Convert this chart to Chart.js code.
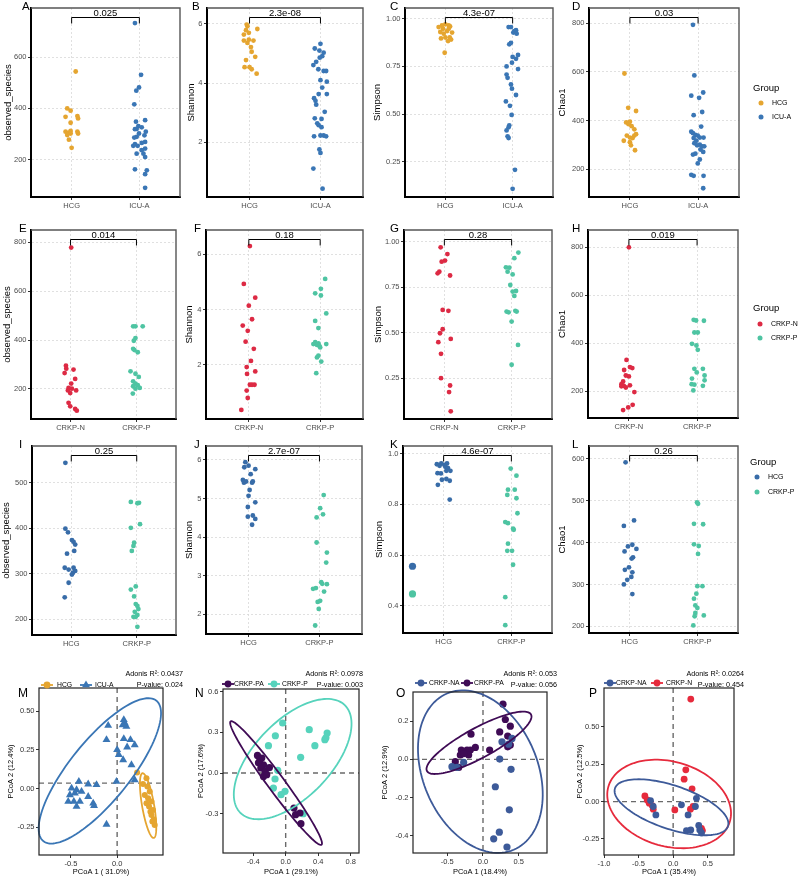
<!DOCTYPE html>
<html>
<head>
<meta charset="utf-8">
<script src="https://cdn.jsdelivr.net/npm/chart.js@4.4.1/dist/chart.umd.min.js"></script>
<style>
  html, body { margin: 0; padding: 0; background: #fff; }
  body { width: 800px; height: 876px; position: relative; overflow: hidden; }
  canvas { position: absolute; }
</style>
</head>
<body>
<script>
const FONT = '"Liberation Sans", Arial, sans-serif';
Chart.defaults.font.family = FONT;

// ---------- categories ----------
const catsIcu = ['HCG', 'ICU-A'];
const catsCrkp = ['CRKP-N', 'CRKP-P'];
const catsHcgP = ['HCG', 'CRKP-P'];

// ---------- tick labels ----------
const ticksObsA = ['200', '400', '600'];
const ticksShanB = ['2', '4', '6'];
const ticksSimpC = ['0.25', '0.50', '0.75', '1.00'];
const ticksChaoD = ['200', '400', '600', '800'];
const ticksObsE = ['200', '400', '600', '800'];
const ticksShanF = ['2', '4', '6'];
const ticksSimpG = ['0.25', '0.50', '0.75', '1.00'];
const ticksChaoH = ['200', '400', '600', '800'];
const ticksObsI = ['200', '300', '400', '500'];
const ticksShanJ = ['2', '3', '4', '5', '6'];
const ticksSimpK = ['0.4', '0.6', '0.8', '1.0'];
const ticksChaoL = ['200', '300', '400', '500', '600'];

const pcoaMxTicks = ['-0.5', '0.0'];
const pcoaMyTicks = ['-0.25', '0.00', '0.25', '0.50'];
const pcoaNxTicks = ['-0.4', '0.0', '0.4', '0.8'];
const pcoaNyTicks = ['-0.3', '0.0', '0.3', '0.6'];
const pcoaOxTicks = ['-0.5', '0.0', '0.5'];
const pcoaOyTicks = ['-0.4', '-0.2', '0.0', '0.2'];
const pcoaPxTicks = ['-1.0', '-0.5', '0.0', '0.5'];
const pcoaPyTicks = ['-0.25', '0.00', '0.25', '0.50'];

// ---------- row 1: HCG vs ICU-A ----------
const obsA_HCG = [544, 400, 391, 370, 367, 361, 344, 312, 309, 309, 305, 302, 302, 296, 278, 246];
const obsA_HCG_jit = [0.06, -0.065, -0.015, 0.085, -0.09, 0.095, -0.015, -0.015, -0.09, 0.085, -0.04, -0.015, 0.095, -0.065, -0.04, 0];
const obsA_ICU = [733, 531, 482, 469, 416, 354, 348, 331, 326, 320, 319, 309, 302, 295, 289, 286, 269, 265, 260, 254, 254, 243, 237, 223, 223, 210, 162, 158, 143, 90];
const obsA_ICU_jit = [-0.065, 0.025, -0.005, -0.045, -0.075, 0.085, -0.05, -0.015, 0.035, -0.04, -0.065, 0.095, -0.005, 0.075, -0.04, -0.075, 0.085, 0.035, -0.065, -0.025, -0.09, 0.085, 0.035, 0.06, -0.04, 0.085, -0.065, 0.11, 0.085, 0.085];

const shanB_HCG = [5.98, 5.92, 5.83, 5.79, 5.70, 5.64, 5.47, 5.44, 5.44, 5.36, 5.22, 5.06, 4.89, 4.78, 4.54, 4.54, 4.47, 4.32];
const shanB_HCG_jit = [-0.04, -0.03, 0.11, -0.05, -0.01, -0.08, -0.01, -0.08, 0.055, -0.03, 0.02, 0.03, 0.08, -0.05, -0.07, 0, 0.03, 0.1];
const shanB_ICU = [5.33, 5.17, 5.10, 5.03, 4.91, 4.86, 4.72, 4.61, 4.47, 4.41, 4.41, 4.10, 4.05, 3.85, 3.63, 3.63, 3.49, 3.40, 3.27, 3.03, 2.81, 2.79, 2.64, 2.58, 2.51, 2.20, 2.23, 2.23, 2.20, 1.76, 1.64, 1.11, 0.43];
const shanB_ICU_jit = [0, -0.08, -0.015, 0.045, 0.025, -0.01, -0.06, -0.1, -0.03, 0.045, 0.08, 0, 0.09, 0.025, -0.025, 0.09, -0.09, -0.07, -0.06, 0.06, -0.08, 0.015, -0.045, -0.025, 0.015, -0.09, 0, 0.045, 0.08, -0.015, 0, -0.1, 0.03];

const simpC_HCG = [0.971, 0.966, 0.966, 0.960, 0.957, 0.948, 0.948, 0.936, 0.931, 0.928, 0.922, 0.902, 0.902, 0.897, 0.891, 0.883, 0.822];
const simpC_HCG_jit = [0, -0.05, 0.05, 0.07, -0.1, -0.035, 0.05, 0.025, -0.075, 0.1, -0.025, 0, 0.065, -0.065, 0.085, 0.04, -0.01];
const simpC_ICU = [0.957, 0.957, 0.940, 0.936, 0.928, 0.922, 0.874, 0.866, 0.810, 0.800, 0.790, 0.770, 0.750, 0.736, 0.707, 0.690, 0.655, 0.633, 0.600, 0.566, 0.543, 0.495, 0.440, 0.430, 0.414, 0.383, 0.374, 0.207, 0.107];
const simpC_ICU_jit = [-0.06, -0.025, 0.05, 0.025, 0.01, 0.06, -0.025, -0.05, 0.08, 0, 0.05, -0.01, -0.09, 0.08, -0.09, -0.075, -0.025, -0.01, 0.05, -0.1, -0.04, -0.015, -0.05, -0.06, -0.09, -0.075, -0.06, 0.035, 0];

const chaoD_HCG = [593, 452, 439, 395, 392, 385, 377, 364, 344, 338, 338, 330, 328, 317, 311, 298, 278];
const chaoD_HCG_jit = [-0.08, -0.025, 0.09, 0, -0.055, -0.02, 0.025, 0.065, 0.09, -0.045, 0.065, 0, 0.04, -0.09, 0, 0.015, 0.075];
const chaoD_ICU = [793, 585, 515, 502, 493, 435, 422, 375, 354, 348, 341, 338, 330, 330, 328, 317, 307, 301, 298, 294, 294, 281, 271, 264, 260, 240, 224, 177, 173, 173, 122];
const chaoD_ICU_jit = [-0.075, -0.055, 0.075, -0.1, 0.015, 0.06, -0.065, 0.045, -0.1, -0.075, -0.04, -0.005, 0.025, 0.08, -0.065, -0.025, -0.055, 0.025, -0.015, 0.06, 0.09, 0.035, 0.075, -0.04, -0.075, 0.025, -0.005, -0.1, -0.065, 0.08, 0.075];

// ---------- row 2: CRKP-N vs CRKP-P ----------
const obsE_N = [778, 295, 283, 279, 265, 241, 222, 204, 201, 194, 194, 183, 143, 129, 118, 111];
const obsE_N_jit = [0.01, -0.07, -0.065, 0.045, -0.09, 0.07, 0.01, -0.03, 0.02, 0.085, -0.04, -0.005, -0.03, -0.005, 0.07, 0.095];
const obsE_P = [456, 456, 456, 408, 397, 364, 359, 350, 272, 262, 249, 231, 222, 215, 211, 204, 201, 181];
const obsE_P_jit = [-0.05, -0.015, 0.095, -0.015, -0.04, -0.05, -0.03, 0.02, -0.09, -0.015, 0.035, -0.05, -0.015, 0.02, -0.05, 0.05, -0.015, -0.055];

const shanF_N = [6.30, 4.93, 4.43, 4.14, 3.65, 3.42, 3.23, 2.84, 2.58, 2.14, 1.92, 1.76, 1.67, 1.28, 1.28, 1.28, 1.07, 0.80, 0.37];
const shanF_N_jit = [0.015, -0.07, 0.09, 0, 0.045, -0.085, -0.015, -0.045, 0.07, 0.03, -0.03, 0.09, -0.025, 0.015, 0.045, 0.08, -0.03, -0.015, -0.105];
const shanF_P = [5.11, 4.75, 4.59, 4.51, 3.86, 3.59, 3.33, 2.82, 2.78, 2.75, 2.75, 2.72, 2.68, 2.63, 2.33, 2.27, 2.12, 1.70];
const shanF_P_jit = [0.07, 0.01, -0.07, 0.01, 0.085, -0.07, -0.025, -0.07, -0.025, -0.095, 0.085, -0.045, -0.01, 0, -0.025, -0.045, 0.015, -0.055];

const simpG_N = [0.969, 0.932, 0.896, 0.890, 0.835, 0.826, 0.814, 0.625, 0.620, 0.519, 0.497, 0.466, 0.448, 0.384, 0.250, 0.210, 0.174, 0.068];
const simpG_N_jit = [-0.055, 0.045, 0.01, -0.04, -0.075, -0.1, 0.085, -0.025, 0.06, -0.025, -0.065, 0.095, -0.09, -0.05, -0.05, 0.085, 0.07, 0.095];
const simpG_P = [0.940, 0.909, 0.859, 0.857, 0.835, 0.820, 0.762, 0.729, 0.726, 0.702, 0.620, 0.616, 0.612, 0.616, 0.561, 0.433, 0.324];
const simpG_P_jit = [0.1, 0.04, -0.085, -0.035, -0.06, 0.015, -0.02, 0.065, 0.015, 0.04, 0.055, -0.075, -0.045, 0.075, 0, 0.095, 0];

const chaoH_N = [800, 331, 301, 297, 289, 266, 262, 241, 230, 225, 223, 221, 216, 197, 144, 133, 122];
const chaoH_N_jit = [0, -0.035, 0.015, 0.05, -0.07, -0.045, 0, -0.085, -0.11, 0.015, -0.075, -0.11, -0.045, 0.08, 0.055, -0.01, -0.085];
const chaoH_P = [498, 495, 494, 445, 445, 398, 391, 373, 294, 294, 279, 266, 253, 246, 230, 228, 223, 204];
const chaoH_P_jit = [-0.05, -0.015, 0.1, -0.04, 0.01, -0.075, -0.01, 0.01, -0.04, 0.085, -0.005, 0.11, -0.075, 0.11, -0.08, -0.04, 0.085, -0.055];

// ---------- row 3: HCG vs CRKP-P ----------
const obsI_HCG = [544, 399, 391, 374, 370, 364, 350, 344, 313, 313, 309, 306, 302, 298, 280, 248];
const obsI_HCG_jit = [-0.09, -0.09, -0.05, 0.01, 0.035, 0.06, 0.045, -0.065, -0.1, 0.035, -0.04, 0.06, 0.025, 0.01, -0.04, -0.1];
const obsI_P = [458, 456, 455, 409, 401, 368, 361, 350, 272, 265, 250, 233, 229, 222, 216, 209, 205, 205, 183];
const obsI_P_jit = [-0.09, 0.035, 0.01, 0.05, -0.09, -0.04, -0.05, -0.075, -0.015, -0.09, -0.04, -0.015, 0.01, 0.025, -0.03, 0.01, -0.05, -0.015, 0.01];

const shanJ_HCG = [5.94, 5.85, 5.81, 5.76, 5.63, 5.48, 5.44, 5.44, 5.41, 5.41, 5.22, 5.07, 4.90, 4.78, 4.56, 4.53, 4.47, 4.32];
const shanJ_HCG_jit = [-0.045, 0, -0.06, 0.095, 0.03, -0.08, -0.035, 0.06, -0.065, 0.05, 0.015, 0, 0.095, -0.01, 0.06, -0.01, 0.095, 0.05];
const shanJ_P = [5.09, 4.75, 4.59, 4.51, 3.86, 3.60, 3.34, 2.83, 2.79, 2.78, 2.68, 2.66, 2.59, 2.35, 2.32, 2.14, 1.71];
const shanJ_P_jit = [0.06, 0.01, 0.05, -0.04, -0.04, 0.105, 0.095, 0.025, 0.04, 0.105, -0.05, -0.09, 0.065, 0.01, -0.025, -0.01, -0.06];

const simpK_HCG = [0.961, 0.961, 0.958, 0.956, 0.952, 0.948, 0.943, 0.932, 0.932, 0.923, 0.922, 0.900, 0.897, 0.893, 0.877, 0.819];
const simpK_HCG_jit = [-0.035, 0.05, -0.1, 0.01, -0.06, 0.025, 0.065, 0.1, 0.04, -0.09, -0.04, 0.04, -0.025, 0.09, -0.085, 0.09];
const simpK_P = [0.941, 0.913, 0.858, 0.858, 0.837, 0.824, 0.765, 0.730, 0.726, 0.704, 0.700, 0.645, 0.617, 0.617, 0.562, 0.434, 0.324];
const simpK_P_jit = [-0.01, 0.075, -0.05, 0.05, -0.06, 0.075, 0.09, -0.09, -0.05, 0.025, 0.035, -0.05, -0.06, 0.01, 0.025, -0.09, -0.09];
const simpK_keys = [0.556, 0.447]; // stray legend keys inside panel K

const chaoL_HCG = [592, 453, 440, 395, 391, 385, 379, 365, 362, 341, 335, 329, 318, 311, 300, 277];
const chaoL_HCG_jit = [-0.06, 0.065, -0.085, 0.04, -0.025, 0.1, -0.075, 0.05, 0.03, -0.01, -0.07, 0.04, 0.025, -0.035, -0.085, 0.04];
const chaoL_P = [496, 493, 445, 444, 396, 392, 373, 296, 296, 278, 266, 250, 244, 232, 226, 224, 202];
const chaoL_P_jit = [-0.005, 0.01, -0.05, 0.085, -0.05, 0.02, 0.01, 0, 0.075, -0.015, -0.05, -0.03, 0, -0.03, 0.095, -0.04, -0.06];

// ---------- row 4: PCoA ----------
const pcoaM_HCG_x = [0.216, 0.317, 0.327, 0.353, 0.299, 0.335, 0.371, 0.317, 0.345, 0.388, 0.371, 0.381, 0.396, 0.406, 0.28, 0.36];
const pcoaM_HCG_y = [0.103, 0.067, 0.013, -0.019, -0.041, -0.063, -0.084, -0.095, -0.116, -0.138, -0.17, -0.213, -0.198, -0.235, 0.03, -0.15];
const pcoaM_ICU_x = [0.072, 0.083, 0.1, 0.06, -0.097, -0.115, 0.072, 0.144, 0.19, 0.108, 0.0, 0.018, 0.065, 0.155, -0.007, 0.19, -0.414, -0.313, -0.223, -0.493, -0.439, -0.457, -0.385, -0.511, -0.313, -0.529, -0.468, -0.403, -0.259, -0.439, -0.25, -0.115];
const pcoaM_ICU_y = [0.444, 0.422, 0.4, 0.41, 0.407, 0.315, 0.321, 0.315, 0.282, 0.267, 0.25, 0.218, 0.185, 0.153, 0.045, 0.056, 0.045, 0.028, 0.024, 0.002, -0.009, -0.03, -0.019, -0.041, -0.052, -0.084, -0.084, -0.084, -0.095, -0.116, -0.11, -0.231];

const pcoaN_PA_x = [-0.347, -0.294, -0.322, -0.273, -0.306, -0.253, -0.273, -0.233, -0.2, -0.335, 0.102, 0.122, 0.176, 0.188];
const pcoaN_PA_y = [0.13, 0.111, 0.086, 0.061, 0.037, 0.012, -0.025, -0.012, 0.04, 0.075, -0.258, -0.307, -0.295, -0.374];
const pcoaN_P_x = [-0.037, 0.29, 0.51, 0.482, 0.495, -0.127, 0.359, -0.212, 0.184, -0.233, -0.098, -0.131, -0.151, -0.008, -0.057, 0.216];
const pcoaN_P_y = [0.369, 0.32, 0.295, 0.246, 0.26, 0.275, 0.202, 0.202, 0.116, 0.037, 0.02, -0.044, -0.111, -0.135, -0.16, -0.3];

const pcoaO_NA_x = [-0.435, -0.364, -0.271, 0.234, 0.266, 0.407, 0.393, 0.173, 0.369, 0.229, 0.15, 0.336, 0.36];
const pcoaO_NA_y = [-0.038, -0.042, -0.016, 0.002, 0.092, 0.11, -0.052, -0.143, -0.264, -0.381, -0.416, -0.459, 0.08];
const pcoaO_PA_x = [0.28, 0.313, 0.383, 0.234, 0.346, 0.383, 0.346, -0.168, 0.093, -0.107, -0.178, -0.224, -0.304, -0.201, -0.318, -0.388, -0.341, -0.271];
const pcoaO_PA_y = [0.289, 0.209, 0.174, 0.144, 0.122, 0.075, 0.066, 0.132, 0.049, 0.063, 0.049, 0.049, 0.049, 0.023, 0.023, -0.012, -0.042, 0.03];

const pcoaP_NA_x = [-0.327, -0.288, -0.25, 0.12, 0.216, 0.337, 0.322, 0.192, 0.255, 0.37, 0.385, 0.41];
const pcoaP_NA_y = [0.007, -0.033, -0.089, -0.022, -0.089, 0.022, -0.033, -0.194, -0.19, -0.16, -0.19, -0.21];
const pcoaP_N_x = [0.255, 0.183, 0.159, 0.274, -0.409, -0.375, -0.346, -0.303, -0.288, 0.024, 0.288, 0.25, 0.423, 0.409];
const pcoaP_N_y = [0.685, 0.212, 0.15, 0.085, 0.038, 0.011, -0.011, -0.027, -0.051, -0.056, -0.033, -0.051, -0.194, -0.179];

// confidence ellipses: centre and two conjugate semi-axes, in data units
const ellM_ICU = { c: [-0.187, 0.114], a: [0.612, 0.453], b: [0.252, -0.123] };
const ellM_HCG = { c: [0.335, -0.11], a: [0.061, -0.209], b: [0.064, 0.0067] };
const ellN_P = { c: [0.086, 0.103], a: [0.641, 0.398], b: [0.337, -0.197] };
const ellN_PA = { c: [-0.118, -0.074], a: [0.559, -0.455], b: [0.082, 0.037] };
const ellO_NA = { c: [-0.037, -0.064], a: [0.467, -0.409], b: [0.739, 0.117] };
const ellO_PA = { c: [-0.056, 0.087], a: [0.729, 0.148], b: [0.1, -0.069] };
const ellP_N = { c: [-0.058, -0.016], a: [0.88, -0.114], b: [-0.163, -0.273] };
const ellP_NA = { c: [-0.024, -0.038], a: [0.817, -0.127], b: [-0.1, -0.1375] };

// ---------- colours ----------
const C_HCG = '#E5A530';
const C_ICU = '#3A76B5';
const C_N = '#DD2A44';
const C_P = '#4EC4A2';
const C_HCG3 = '#386CA8';
const C_PA = '#3F0B55';
const C_P2 = '#56D3BC';
const C_NA = '#3D5A99';
const C_N2 = '#E62A3C';

function addCanvas(l, t, w, h) {
  const c = document.createElement('canvas');
  c.style.left = l + 'px';
  c.style.top = t + 'px';
  c.width = w;
  c.height = h;
  document.body.appendChild(c);
  return c;
}

// ---------- strip charts ----------
function stripDecor(p, cl, ct) {
  return {
    id: 'stripDecor',
    afterDraw(chart) {
      const { ctx, chartArea: a, scales } = chart;
      ctx.save();
      ctx.strokeStyle = '#555';
      ctx.lineWidth = 1.4;
      ctx.beginPath();
      ctx.moveTo(a.left, a.top);
      ctx.lineTo(a.right, a.top);
      ctx.lineTo(a.right, a.bottom);
      ctx.stroke();

      // significance bracket
      const x1 = scales.x.getPixelForValue(1), x2 = scales.x.getPixelForValue(2);
      const by = a.top + 9.5;
      ctx.strokeStyle = '#000';
      ctx.lineWidth = 1;
      ctx.beginPath();
      ctx.moveTo(x1, by + 6);
      ctx.lineTo(x1, by);
      ctx.lineTo(x2, by);
      ctx.lineTo(x2, by + 6);
      ctx.stroke();
      ctx.fillStyle = '#000';
      ctx.font = '9.5px ' + FONT;
      ctx.textAlign = 'center';
      ctx.textBaseline = 'alphabetic';
      ctx.fillText(p.p, (x1 + x2) / 2, by - 1.2);

      // panel letter
      ctx.font = '11.5px ' + FONT;
      ctx.textAlign = 'left';
      ctx.fillText(p.letter, p.lx - cl, a.top + 1.5);

      // group legend
      if (p.legend) {
        const lg = p.legend;
        ctx.textBaseline = 'middle';
        ctx.font = '9.5px ' + FONT;
        ctx.fillText('Group', lg.x - cl, lg.y - ct);
        ctx.font = '7px ' + FONT;
        lg.items.forEach(it => {
          ctx.fillStyle = it.color;
          ctx.beginPath();
          ctx.arc(lg.dot - cl, it.y - ct, 2.5, 0, Math.PI * 2);
          ctx.fill();
          ctx.fillStyle = '#000';
          ctx.fillText(it.name, lg.text - cl, it.y - ct);
        });
      }
      ctx.restore();
    }
  };
}

function stripChart(p) {
  const cl = p.cl, ct = p.box[1] - p.padTop;
  const cr = p.legend ? 800 : p.box[2] + 4;
  const cb = p.box[3] + 20;
  const canvas = addCanvas(cl, ct, cr - cl, cb - ct);
  const yVals = p.yLabels.map(Number);
  const datasets = p.groups.map(g => ({
    data: g.vals.map((v, i) => ({ x: g.pos + g.jit[i], y: v })),
    backgroundColor: g.color,
    borderWidth: 0,
    pointRadius: g.r || 2.4
  }));
  new Chart(canvas, {
    type: 'scatter',
    data: { datasets },
    options: {
      responsive: false,
      animation: false,
      events: [],
      layout: { autoPadding: false, padding: { left: 0, top: p.padTop, right: cr - p.box[2], bottom: 0 } },
      plugins: { legend: { display: false }, tooltip: { enabled: false } },
      scales: {
        x: {
          type: 'linear', min: 0.4, max: 2.6,
          afterBuildTicks: a => { a.ticks = [{ value: 1 }, { value: 2 }]; },
          afterFit: a => { a.height = cb - p.box[3]; },
          ticks: { callback: (v, i) => p.cats[i], font: { size: 7.5 }, color: '#4d4d4d', padding: 1, maxRotation: 0, autoSkip: false },
          grid: { color: '#d9d9d9', lineWidth: 0.8, tickLength: 3, tickColor: '#333', tickWidth: 1 },
          border: { display: true, color: '#000', width: 2, dash: [2, 2] }
        },
        y: {
          min: p.yMin, max: p.yMax,
          afterBuildTicks: a => { a.ticks = yVals.map(v => ({ value: v })); },
          afterFit: a => { a.width = p.box[0] - cl; },
          ticks: { callback: (v, i) => p.yLabels[i], font: { size: 7.5 }, color: '#4d4d4d', padding: 1.5, autoSkip: false },
          grid: { color: '#d9d9d9', lineWidth: 0.8, tickLength: 3, tickColor: '#333', tickWidth: 1 },
          border: { display: true, color: '#000', width: 2, dash: [2, 2] },
          title: { display: true, text: p.yTitle, font: { size: 9.5 }, color: '#000', padding: { top: 1, bottom: 0 } }
        }
      }
    },
    plugins: [stripDecor(p, cl, ct)]
  });
}

const legendIcu = { x: 753, y: 88, dot: 761, text: 772, items: [{ name: 'HCG', color: C_HCG, y: 103 }, { name: 'ICU-A', color: C_ICU, y: 117 }] };
const legendCrkp = { x: 753, y: 308, dot: 760, text: 771, items: [{ name: 'CRKP-N', color: C_N, y: 324 }, { name: 'CRKP-P', color: C_P, y: 338 }] };
const legendHcgP = { x: 750, y: 462, dot: 757, text: 768, items: [{ name: 'HCG', color: C_HCG3, y: 477 }, { name: 'CRKP-P', color: C_P, y: 492 }] };

const stripPanels = [
  { letter: 'A', lx: 22, box: [31, 8, 180, 197], cl: 2, padTop: 8, cats: catsIcu, yTitle: 'observed_species', yLabels: ticksObsA, yMin: 54, yMax: 792, p: '0.025',
    groups: [{ vals: obsA_HCG, jit: obsA_HCG_jit, pos: 1, color: C_HCG }, { vals: obsA_ICU, jit: obsA_ICU_jit, pos: 2, color: C_ICU }] },
  { letter: 'B', lx: 192, box: [207, 8, 363, 197], cl: 185, padTop: 8, cats: catsIcu, yTitle: 'Shannon', yLabels: ticksShanB, yMin: 0.15, yMax: 6.54, p: '2.3e-08',
    groups: [{ vals: shanB_HCG, jit: shanB_HCG_jit, pos: 1, color: C_HCG }, { vals: shanB_ICU, jit: shanB_ICU_jit, pos: 2, color: C_ICU }] },
  { letter: 'C', lx: 390, box: [405, 8, 553, 197], cl: 371, padTop: 8, cats: catsIcu, yTitle: 'Simpson', yLabels: ticksSimpC, yMin: 0.064, yMax: 1.057, p: '4.3e-07',
    groups: [{ vals: simpC_HCG, jit: simpC_HCG_jit, pos: 1, color: C_HCG }, { vals: simpC_ICU, jit: simpC_ICU_jit, pos: 2, color: C_ICU }] },
  { letter: 'D', lx: 572, box: [589, 8, 739, 197], cl: 556, padTop: 8, cats: catsIcu, yTitle: 'Chao1', yLabels: ticksChaoD, yMin: 86, yMax: 862, p: '0.03', legend: legendIcu,
    groups: [{ vals: chaoD_HCG, jit: chaoD_HCG_jit, pos: 1, color: C_HCG }, { vals: chaoD_ICU, jit: chaoD_ICU_jit, pos: 2, color: C_ICU }] },

  { letter: 'E', lx: 19, box: [31, 230, 176, 419], cl: 1, padTop: 11, cats: catsCrkp, yTitle: 'observed_species', yLabels: ticksObsE, yMin: 77, yMax: 850, p: '0.014',
    groups: [{ vals: obsE_N, jit: obsE_N_jit, pos: 1, color: C_N }, { vals: obsE_P, jit: obsE_P_jit, pos: 2, color: C_P }] },
  { letter: 'F', lx: 194, box: [206, 230, 363, 419], cl: 183, padTop: 11, cats: catsCrkp, yTitle: 'Shannon', yLabels: ticksShanF, yMin: 0.04, yMax: 6.88, p: '0.18',
    groups: [{ vals: shanF_N, jit: shanF_N_jit, pos: 1, color: C_N }, { vals: shanF_P, jit: shanF_P_jit, pos: 2, color: C_P }] },
  { letter: 'G', lx: 390, box: [404, 230, 552, 419], cl: 372, padTop: 11, cats: catsCrkp, yTitle: 'Simpson', yLabels: ticksSimpG, yMin: 0.026, yMax: 1.064, p: '0.28',
    groups: [{ vals: simpG_N, jit: simpG_N_jit, pos: 1, color: C_N }, { vals: simpG_P, jit: simpG_P_jit, pos: 2, color: C_P }] },
  { letter: 'H', lx: 572, box: [588, 230, 738, 418], cl: 556, padTop: 11, cats: catsCrkp, yTitle: 'Chao1', yLabels: ticksChaoH, yMin: 89, yMax: 872, p: '0.019', legend: legendCrkp,
    groups: [{ vals: chaoH_N, jit: chaoH_N_jit, pos: 1, color: C_N }, { vals: chaoH_P, jit: chaoH_P_jit, pos: 2, color: C_P }] },

  { letter: 'I', lx: 19, box: [32, 446, 176, 635], cl: 0, padTop: 11, cats: catsHcgP, yTitle: 'observed_species', yLabels: ticksObsI, yMin: 165, yMax: 581, p: '0.25',
    groups: [{ vals: obsI_HCG, jit: obsI_HCG_jit, pos: 1, color: C_HCG3 }, { vals: obsI_P, jit: obsI_P_jit, pos: 2, color: C_P }] },
  { letter: 'J', lx: 194, box: [206, 446, 362, 634], cl: 183, padTop: 11, cats: catsHcgP, yTitle: 'Shannon', yLabels: ticksShanJ, yMin: 1.49, yMax: 6.36, p: '2.7e-07',
    groups: [{ vals: shanJ_HCG, jit: shanJ_HCG_jit, pos: 1, color: C_HCG3 }, { vals: shanJ_P, jit: shanJ_P_jit, pos: 2, color: C_P }] },
  { letter: 'K', lx: 390, box: [403, 446, 552, 633], cl: 373, padTop: 11, cats: catsHcgP, yTitle: 'Simpson', yLabels: ticksSimpK, yMin: 0.293, yMax: 1.03, p: '4.6e-07',
    groups: [{ vals: simpK_HCG, jit: simpK_HCG_jit, pos: 1, color: C_HCG3 }, { vals: simpK_P, jit: simpK_P_jit, pos: 2, color: C_P },
             { vals: simpK_keys, jit: [0, 0], pos: 0.54, color: [C_HCG3, C_P], r: 3.6 }] },
  { letter: 'L', lx: 572, box: [589, 446, 738, 633], cl: 556, padTop: 11, cats: catsHcgP, yTitle: 'Chao1', yLabels: ticksChaoL, yMin: 184, yMax: 631, p: '0.26', legend: legendHcgP,
    groups: [{ vals: chaoL_HCG, jit: chaoL_HCG_jit, pos: 1, color: C_HCG3 }, { vals: chaoL_P, jit: chaoL_P_jit, pos: 2, color: C_P }] }
];

// ---------- PCoA charts ----------
function drawMarker(ctx, shape, x, y, r, color) {
  ctx.fillStyle = color;
  ctx.beginPath();
  if (shape === 'triangle') {
    ctx.moveTo(x, y - r);
    ctx.lineTo(x + r * 0.866, y + r * 0.5);
    ctx.lineTo(x - r * 0.866, y + r * 0.5);
    ctx.closePath();
  } else {
    ctx.arc(x, y, r, 0, Math.PI * 2);
  }
  ctx.fill();
}

function pcoaDecor(p, cl, ct) {
  return {
    id: 'pcoaDecor',
    beforeDatasetsDraw(chart) {
      const { ctx, chartArea: a, scales: { x, y } } = chart;
      ctx.save();
      ctx.strokeStyle = '#6a6a6a';
      ctx.lineWidth = 1.4;
      ctx.setLineDash([5, 4]);
      const vx = x.getPixelForValue(0), hy = y.getPixelForValue(p.hLine);
      ctx.beginPath();
      ctx.moveTo(vx, a.top); ctx.lineTo(vx, a.bottom);
      ctx.moveTo(a.left, hy); ctx.lineTo(a.right, hy);
      ctx.stroke();
      ctx.restore();
    },
    afterDatasetsDraw(chart) {
      const { ctx, scales: { x, y } } = chart;
      ctx.save();
      p.ellipses.forEach(e => {
        ctx.strokeStyle = e.color;
        ctx.lineWidth = 1.8;
        ctx.beginPath();
        for (let k = 0; k <= 120; k++) {
          const t = k / 120 * Math.PI * 2;
          const px = x.getPixelForValue(e.c[0] + e.a[0] * Math.cos(t) + e.b[0] * Math.sin(t));
          const py = y.getPixelForValue(e.c[1] + e.a[1] * Math.cos(t) + e.b[1] * Math.sin(t));
          if (k === 0) ctx.moveTo(px, py); else ctx.lineTo(px, py);
        }
        ctx.closePath();
        ctx.stroke();
      });
      ctx.restore();
    },
    afterDraw(chart) {
      const { ctx, chartArea: a } = chart;
      ctx.save();
      ctx.strokeStyle = '#222';
      ctx.lineWidth = 1.2;
      ctx.strokeRect(a.left, a.top, a.right - a.left, a.bottom - a.top);

      // legend above the panel
      ctx.textBaseline = 'middle';
      ctx.textAlign = 'left';
      ctx.font = '6.8px ' + FONT;
      p.groups.forEach(g => {
        const mx = g.lgX - cl, my = p.legendY - ct;
        ctx.strokeStyle = g.color;
        ctx.lineWidth = 1.8;
        ctx.beginPath();
        ctx.moveTo(mx - 6, my); ctx.lineTo(mx + 6, my);
        ctx.stroke();
        drawMarker(ctx, g.shape, mx, my, g.shape === 'triangle' ? 4.6 : 3.4, g.color);
        ctx.fillStyle = '#000';
        ctx.fillText(g.name, g.lgT - cl, my);
      });

      // adonis statistics
      ctx.textAlign = 'right';
      ctx.fillStyle = '#000';
      ctx.font = '7.2px ' + FONT;
      ctx.fillText(p.adonis[0], p.adonisX - cl, 674.5 - ct);
      ctx.fillText(p.adonis[1], p.adonisX - cl, 685 - ct);

      // panel letter
      ctx.textAlign = 'left';
      ctx.textBaseline = 'alphabetic';
      ctx.font = '12px ' + FONT;
      ctx.fillText(p.letter, p.lx - cl, 697 - ct);
      ctx.restore();
    }
  };
}

function pcoaChart(p) {
  const ct = 664, cb = 876;
  const canvas = addCanvas(p.cl, ct, p.cr - p.cl, cb - ct);
  const xVals = p.xLabels.map(Number), yVals = p.yLabels.map(Number);
  const datasets = p.groups.map(g => ({
    data: g.xs.map((v, i) => ({ x: v, y: g.ys[i] })),
    backgroundColor: g.color,
    borderWidth: 0,
    pointStyle: g.shape,
    pointRadius: g.r
  }));
  new Chart(canvas, {
    type: 'scatter',
    data: { datasets },
    options: {
      responsive: false,
      animation: false,
      events: [],
      layout: { autoPadding: false, padding: { left: 0, top: p.box[1] - ct, right: p.cr - p.box[2], bottom: 0 } },
      plugins: { legend: { display: false }, tooltip: { enabled: false } },
      scales: {
        x: {
          type: 'linear', min: p.xMin, max: p.xMax,
          afterBuildTicks: a => { a.ticks = xVals.map(v => ({ value: v })); },
          afterFit: a => { a.height = cb - p.box[3]; },
          ticks: { callback: (v, i) => p.xLabels[i], font: { size: 7.5 }, color: '#333', padding: 1, maxRotation: 0, autoSkip: false },
          grid: { drawOnChartArea: false, tickLength: 3, tickColor: '#333', tickWidth: 1 },
          border: { display: false },
          title: { display: true, text: p.xTitle, font: { size: 7.5 }, color: '#000', padding: { top: 0, bottom: 0 } }
        },
        y: {
          min: p.yMin, max: p.yMax,
          afterBuildTicks: a => { a.ticks = yVals.map(v => ({ value: v })); },
          afterFit: a => { a.width = p.box[0] - p.cl; },
          ticks: { callback: (v, i) => p.yLabels[i], font: { size: 7.5 }, color: '#333', padding: 1.5, autoSkip: false },
          grid: { drawOnChartArea: false, tickLength: 3, tickColor: '#333', tickWidth: 1 },
          border: { display: false },
          title: { display: true, text: p.yTitle, font: { size: 7.5 }, color: '#000', padding: { top: 1, bottom: 0 } }
        }
      }
    },
    plugins: [pcoaDecor(p, p.cl, ct)]
  });
}

const pcoaPanels = [
  { letter: 'M', lx: 18, box: [39, 688, 163, 855], cl: 5, cr: 186, xMin: -0.845, xMax: 0.496, yMin: -0.429, yMax: 0.649,
    xLabels: pcoaMxTicks, yLabels: pcoaMyTicks, xTitle: 'PCoA 1 ( 31.0%)', yTitle: 'PCoA 2 (12.4%)', hLine: 0.035,
    adonis: ['Adonis R²: 0.0437', 'P-value: 0.024'], adonisX: 183, legendY: 685,
    groups: [{ name: 'HCG', xs: pcoaM_HCG_x, ys: pcoaM_HCG_y, color: C_HCG, shape: 'circle', r: 3, lgX: 47, lgT: 57 },
             { name: 'ICU-A', xs: pcoaM_ICU_x, ys: pcoaM_ICU_y, color: C_ICU, shape: 'triangle', r: 4.6, lgX: 86, lgT: 95 }],
    ellipses: [Object.assign({ color: C_ICU }, ellM_ICU), Object.assign({ color: C_HCG }, ellM_HCG)] },
  { letter: 'N', lx: 195, box: [223, 689, 359, 853], cl: 195, cr: 366, xMin: -0.771, xMax: 0.902, yMin: -0.59, yMax: 0.62,
    xLabels: pcoaNxTicks, yLabels: pcoaNyTicks, xTitle: 'PCoA 1 (29.1%)', yTitle: 'PCoA 2 (17.6%)', hLine: 0,
    adonis: ['Adonis R²: 0.0978', 'P-value: 0.003'], adonisX: 363, legendY: 684,
    groups: [{ name: 'CRKP-PA', xs: pcoaN_PA_x, ys: pcoaN_PA_y, color: C_PA, shape: 'circle', r: 3.6, lgX: 228, lgT: 234 },
             { name: 'CRKP-P', xs: pcoaN_P_x, ys: pcoaN_P_y, color: C_P2, shape: 'circle', r: 3.6, lgX: 274, lgT: 282 }],
    ellipses: [Object.assign({ color: C_P2 }, ellN_P), Object.assign({ color: C_PA }, ellN_PA)] },
  { letter: 'O', lx: 396, box: [413, 692, 547, 853], cl: 379, cr: 560, xMin: -0.981, xMax: 0.897, yMin: -0.49, yMax: 0.353,
    xLabels: pcoaOxTicks, yLabels: pcoaOyTicks, xTitle: 'PCoA 1 (18.4%)', yTitle: 'PCoA 2 (12.9%)', hLine: 0,
    adonis: ['Adonis R²: 0.053', 'P-value: 0.056'], adonisX: 557, legendY: 683,
    groups: [{ name: 'CRKP-NA', xs: pcoaO_NA_x, ys: pcoaO_NA_y, color: C_NA, shape: 'circle', r: 3.6, lgX: 421, lgT: 429 },
             { name: 'CRKP-PA', xs: pcoaO_PA_x, ys: pcoaO_PA_y, color: C_PA, shape: 'circle', r: 3.6, lgX: 467, lgT: 474 }],
    ellipses: [Object.assign({ color: C_NA }, ellO_NA), Object.assign({ color: C_PA }, ellO_PA)] },
  { letter: 'P', lx: 589, box: [604, 688, 734, 855], cl: 574, cr: 748, xMin: -1.0, xMax: 0.88, yMin: -0.357, yMax: 0.759,
    xLabels: pcoaPxTicks, yLabels: pcoaPyTicks, xTitle: 'PCoA 1 (35.4%)', yTitle: 'PCoA 2 (12.5%)', hLine: 0,
    adonis: ['Adonis R²: 0.0264', 'P-value: 0.454'], adonisX: 744, legendY: 683,
    groups: [{ name: 'CRKP-NA', xs: pcoaP_NA_x, ys: pcoaP_NA_y, color: C_NA, shape: 'circle', r: 3.4, lgX: 610, lgT: 616 },
             { name: 'CRKP-N', xs: pcoaP_N_x, ys: pcoaP_N_y, color: C_N2, shape: 'circle', r: 3.4, lgX: 657, lgT: 666 }],
    ellipses: [Object.assign({ color: C_N2 }, ellP_N), Object.assign({ color: C_NA }, ellP_NA)] }
];

stripPanels.forEach(stripChart);
pcoaPanels.forEach(pcoaChart);
</script>
</body>
</html>
